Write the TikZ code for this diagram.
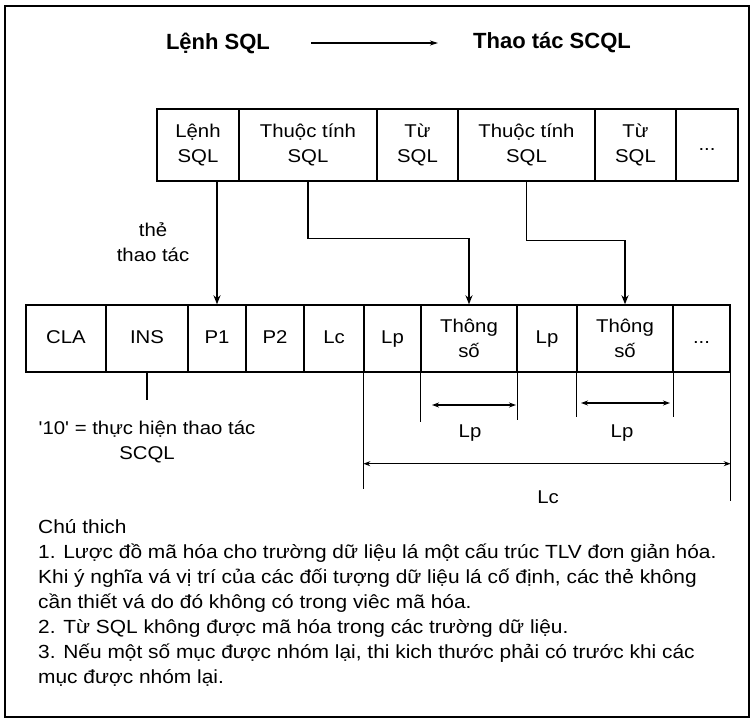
\documentclass[tikz,border=0pt]{standalone}
\usepackage{fontspec}
\setmainfont{Liberation Sans}[FakeStretch=1.1]
\newfontfamily\titlefont{Liberation Sans}
\newfontfamily\plainquote{Liberation Sans}[FakeStretch=1.1]
\usetikzlibrary{arrows.meta,calc}
\tikzset{
  cell/.style={draw, line width=1.4pt, inner sep=0pt, align=center, font=\fontsize{18.5}{25}\selectfont},
  arr/.style={line width=1.4pt, -{Stealth[length=9pt,width=7pt]}},
  dim/.style={line width=1.2pt, {Stealth[length=7pt,width=5pt]}-{Stealth[length=7pt,width=5pt]}},
  ext/.style={line width=1.2pt},
  lbl/.style={inner sep=0pt, align=center, font=\fontsize{18.5}{25}\selectfont},
  ttl/.style={inner sep=0pt, font=\fontsize{22}{26}\titlefont\bfseries}
}
\begin{document}
\begin{tikzpicture}[x=1pt,y=-1pt]
\useasboundingbox (0,0) rectangle (753,723);
\draw[line width=1.6pt] (5,6) rectangle (749,717);

% title
\node[ttl] (t1) at (218,43) {Lệnh SQL};
\node[ttl] (t2) at (552,43) {Thao tác SCQL};
\draw[line width=1.2pt, -{Stealth[length=8pt,width=5pt]}] ($(t1.east)+(41,0)$) -- ($(t2.west)+(-35,0)$);

% top row
\node[cell, minimum width=82pt, minimum height=72pt] (lenh) at (198,145) {Lệnh\\SQL};
\node[cell, minimum width=138pt, minimum height=72pt] (tt1) at (308,145) {Thuộc tính\\SQL};
\node[cell, minimum width=81pt, minimum height=72pt] (tu1) at (417.5,145) {Từ\\SQL};
\node[cell, minimum width=137pt, minimum height=72pt] (tt2) at (526.5,145) {Thuộc tính\\SQL};
\node[cell, minimum width=81pt, minimum height=72pt] (tu2) at (635.5,145) {Từ\\SQL};
\node[cell, minimum width=62pt, minimum height=72pt] (dots1) at (707,145) {\strut...};

% bottom row
\node[cell, minimum width=80pt, minimum height=67pt] (cla) at (66,338.5) {\strut CLA};
\node[cell, minimum width=82pt, minimum height=67pt] (ins) at (147,338.5) {\strut INS};
\node[cell, minimum width=58pt, minimum height=67pt] (p1) at (217,338.5) {\strut P1};
\node[cell, minimum width=58pt, minimum height=67pt] (p2) at (275,338.5) {\strut P2};
\node[cell, minimum width=60pt, minimum height=67pt] (lc) at (334,338.5) {\strut Lc};
\node[cell, minimum width=57pt, minimum height=67pt] (lp1) at (392.5,338.5) {\strut Lp};
\node[cell, minimum width=96pt, minimum height=67pt] (ts1) at (469,338.5) {Thông\\số};
\node[cell, minimum width=60pt, minimum height=67pt] (lp2) at (547,338.5) {\strut Lp};
\node[cell, minimum width=96pt, minimum height=67pt] (ts2) at (625,338.5) {Thông\\số};
\node[cell, minimum width=57pt, minimum height=67pt] (dots2) at (701.5,338.5) {\strut...};

% connectors
\draw[arr] (lenh.south -| p1.north) -- (p1.north);
\draw[arr] (tt1.south) -- ++(0,57) -| (ts1.north);
\draw[arr] (tt2.south) -- ++(0,59) -| (ts2.north);

\node[lbl] (the) at (153,242.5) {thẻ\\thao tác};

% INS note
\coordinate (insend) at (147,400);
\draw[ext, line width=1.4pt] (ins.south) -- (insend);
\node[lbl] (ten) at (147,441.5) {{\plainquote '}10{\plainquote '} = thực hiện thao tác\\SCQL};

% dimensions
\coordinate (e1) at ($(ts1.south west)+(0,49)$);
\coordinate (e2) at ($(ts1.south east)+(0,47)$);
\coordinate (e3) at ($(ts2.south west)+(0,44)$);
\coordinate (e4) at ($(ts2.south east)+(0,44)$);
\draw[ext] (ts1.south west) -- (e1);
\draw[ext] (ts1.south east) -- (e2);
\draw[ext] (ts2.south west) -- (e3);
\draw[ext] (ts2.south east) -- (e4);
\coordinate (a1) at (432,405);
\coordinate (a2) at (516,405);
\coordinate (a3) at (581,403);
\coordinate (a4) at (670,403);
\draw[dim] (a1) -- (a2);
\draw[dim] (a3) -- (a4);
\node[lbl] (lpl1) at (470,433) {Lp};
\node[lbl] (lpl2) at (622,433) {Lp};

\coordinate (c1) at ($(lp1.south west)+(0,116)$);
\coordinate (c2) at ($(dots2.south east)+(0,128)$);
\draw[ext] (lp1.south west) -- (c1);
\draw[ext] (dots2.south east) -- (c2);
\coordinate (b1) at ($(lp1.south west)+(0,91)$);
\coordinate (b2) at ($(dots2.south east)+(0,91)$);
\draw[dim] (b1) -- (b2);
\node[lbl] (lcl) at (548,497) {Lc};

% notes
\node[inner sep=0pt, anchor=west, align=left, font=\fontsize{19}{25}\selectfont] (notes) at (38,603) {Chú thich\\
1. Lược đồ mã hóa cho trường dữ liệu lá một cấu trúc TLV đơn giản hóa.\\
Khi ý nghĩa vá vị trí của các đối tượng dữ liệu lá cố định, các thẻ không\\
cần thiết vá do đó không có trong viêc mã hóa.\\
2. Từ SQL không được mã hóa trong các trường dữ liệu.\\
3. Nếu một số mục được nhóm lại, thi kich thước phải có trước khi các\\
mục được nhóm lại.};
\end{tikzpicture}
\end{document}
